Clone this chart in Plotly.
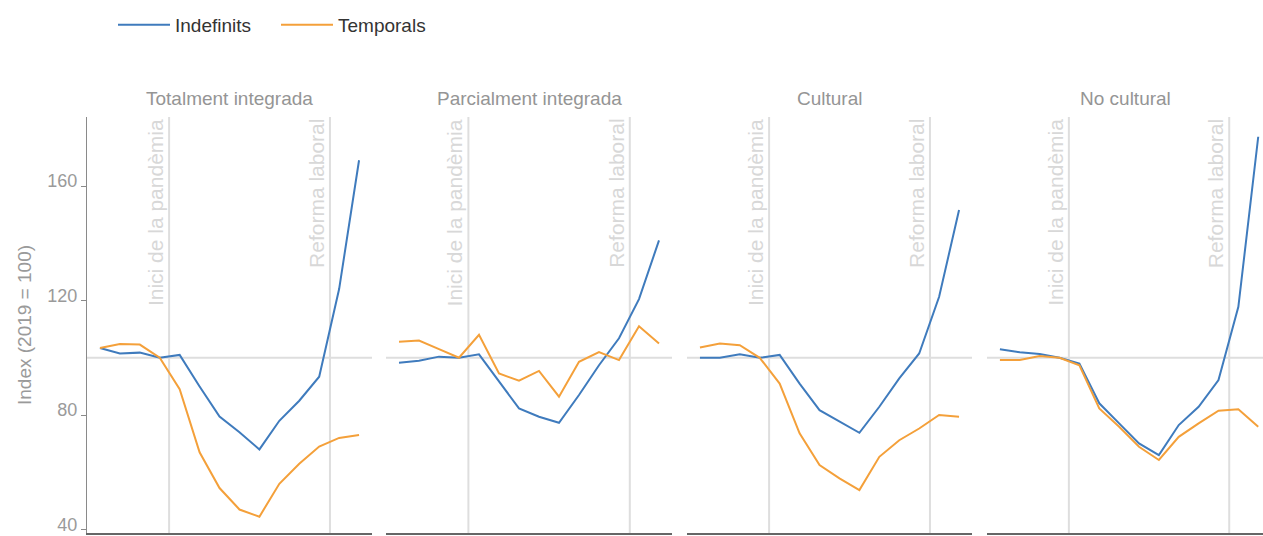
import plotly.graph_objects as go
from plotly.subplots import make_subplots

# ---------------- data ----------------
panels = ["Totalment integrada", "Parcialment integrada", "Cultural", "No cultural"]
periods = list(range(14))  # consecutive quarterly periods
series_names = ["Indefinits", "Temporals"]

indefinits_total = [103.4, 101.5, 101.8, 100.0, 101.0, 90.0, 79.5, 74.0, 68.0, 78.0, 85.0, 93.4, 124.0, 169.0]
temporals_total = [103.4, 104.8, 104.6, 100.0, 89.0, 67.0, 54.5, 47.0, 44.5, 56.0, 63.0, 69.0, 72.0, 73.0]

indefinits_parcial = [98.3, 99.0, 100.4, 100.0, 101.2, 91.6, 82.3, 79.4, 77.3, 87.0, 97.4, 106.8, 120.5, 141.0]
temporals_parcial = [105.6, 106.0, 103.0, 100.0, 108.0, 94.5, 92.0, 95.4, 86.4, 98.6, 102.0, 99.2, 111.0, 105.0]

indefinits_cultural = [100.0, 100.0, 101.2, 100.0, 101.0, 91.0, 81.7, 77.6, 73.8, 82.9, 92.8, 101.5, 121.3, 151.6]
temporals_cultural = [103.6, 105.0, 104.4, 100.0, 91.0, 73.6, 62.5, 57.9, 53.8, 65.4, 71.2, 75.3, 80.0, 79.4]

indefinits_nocultural = [103.0, 101.9, 101.3, 100.0, 98.0, 84.1, 77.1, 70.1, 66.0, 76.5, 82.9, 92.2, 117.8, 177.2]
temporals_nocultural = [99.2, 99.2, 100.6, 100.0, 97.4, 82.3, 75.9, 68.9, 64.3, 72.4, 77.1, 81.5, 82.0, 75.9]

events = ["Inici de la pandèmia", "Reforma laboral"]
event_positions = [3.47, 11.54]  # in period units
base_value = 100

y_ticks = [40, 80, 120, 160]
y_title = "Index (2019 = 100)"

indefinits = [indefinits_total, indefinits_parcial, indefinits_cultural, indefinits_nocultural]
temporals = [temporals_total, temporals_parcial, temporals_cultural, temporals_nocultural]

# ---------------- style ----------------
W, H = 1263, 536
BLUE = "#3f7bbd"
ORANGE = "#f4a03a"
FONT = "Arial, Liberation Sans, sans-serif"
GRID = "#dedede"

panel_px = [(87, 372), (386, 672), (687, 972), (987, 1263)]
xranges = [[-0.65, 13.65], [-0.65, 13.65], [-0.65, 13.65], [-0.65, 13.24]]
y_top_px, y_bot_px = 117, 533
ydom = [(H - y_bot_px) / H, (H - y_top_px) / H]

fig = make_subplots(rows=1, cols=4, shared_yaxes=True)

for i in range(4):
    fig.add_trace(go.Scatter(x=periods, y=indefinits[i], mode="lines", name=series_names[0],
                             line=dict(color=BLUE, width=2), legendgroup="ind",
                             showlegend=(i == 0)), row=1, col=i + 1)
    fig.add_trace(go.Scatter(x=periods, y=temporals[i], mode="lines", name=series_names[1],
                             line=dict(color=ORANGE, width=2), legendgroup="tmp",
                             showlegend=(i == 0)), row=1, col=i + 1)

for i in range(4):
    xa = "xaxis" if i == 0 else f"xaxis{i+1}"
    ya = "yaxis" if i == 0 else f"yaxis{i+1}"
    x0, x1 = panel_px[i]
    fig.layout[xa].update(domain=[x0 / W, x1 / W], range=xranges[i], showgrid=False,
                          zeroline=False, showticklabels=False, ticks="", automargin=False,
                          showline=True, linecolor="#666666", linewidth=1.6)
    fig.layout[ya].update(domain=ydom, range=[38.8, 184.1], showgrid=False, zeroline=False,
                          automargin=False)
    xref = "x" if i == 0 else f"x{i+1}"
    yref = "y" if i == 0 else f"y{i+1}"
    # horizontal base line
    fig.add_shape(type="line", xref=f"{xref} domain", yref=yref, x0=0, x1=1,
                  y0=base_value, y1=base_value, line=dict(color=GRID, width=2), layer="below")
    for ev, pos in zip(events, event_positions):
        fig.add_shape(type="line", xref=xref, yref=f"{yref} domain", x0=pos, x1=pos,
                      y0=0, y1=1, line=dict(color=GRID, width=2), layer="below")
        fig.add_annotation(x=pos, y=1, xref=xref, yref=f"{yref} domain", text=ev,
                           textangle=-90, xanchor="right", yanchor="top", showarrow=False,
                           font=dict(family=FONT, size=21, color="#d8d8d8"))
    fig.add_annotation(x=(x0 + x1) / 2 / W, y=(H - 98) / H, xref="paper", yref="paper",
                       text=panels[i], showarrow=False, xanchor="center", yanchor="middle",
                       font=dict(family=FONT, size=19, color="#959595"))

fig.layout.yaxis.update(tickvals=y_ticks, ticks="outside", ticklen=5, tickcolor="#8a8a8a",
                        showline=True, linecolor="#8a8a8a", linewidth=1.2,
                        ticklabeloverflow="allow", ticklabelshift=-5,
                        tickfont=dict(family=FONT, size=18, color="#9a9a9a"),
                        title=dict(text=y_title, font=dict(family=FONT, size=19, color="#9a9a9a"),
                                   standoff=10))
for i in range(2, 5):
    fig.layout[f"yaxis{i}"].update(showticklabels=False, ticks="", showline=False)

fig.update_layout(
    width=W, height=H,
    margin=dict(l=0, r=0, t=0, b=0, autoexpand=False),
    paper_bgcolor="white", plot_bgcolor="white",
    font=dict(family=FONT, color="#333333"),
    legend=dict(orientation="h", x=113 / W, y=1 - 6 / H, xanchor="left", yanchor="top",
                font=dict(family=FONT, size=19, color="#333333"), itemwidth=52,
                entrywidth=96, bgcolor="rgba(0,0,0,0)"),
)

page_js = (
    "document.documentElement.style.overflow='hidden';"
    "document.body.style.overflow='hidden';"
    "document.body.style.margin='0';"
)

fig.write_html("out.html", config={"displayModeBar": False}, post_script=page_js)
